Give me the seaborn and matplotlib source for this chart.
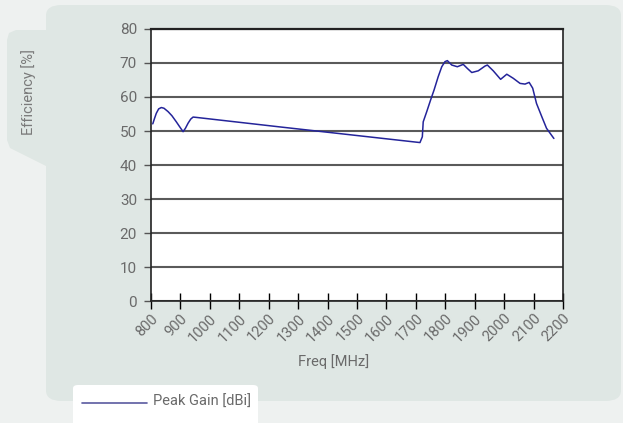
import numpy as np
import pandas as pd
import seaborn as sns
import matplotlib.pyplot as plt
from matplotlib.patches import FancyBboxPatch, Polygon

# values
freq = [806, 812, 818, 826, 835, 844, 858, 871, 886, 897,
        909, 917, 926, 935, 943, 954,
        1238, 1714, 1722, 1725, 1737, 1750, 1762, 1776, 1788, 1799,
        1807, 1822, 1841, 1861, 1875, 1890, 1912, 1935, 1943, 1963,
        1988, 2009, 2031, 2054, 2071, 2085, 2097, 2110, 2128, 2144, 2169]
efficiency = [52.1, 53.7, 55.2, 56.5, 56.9, 56.7, 55.7, 54.5, 52.7, 51.3,
              49.8, 50.8, 52.3, 53.5, 54.1, 54.0,
              51.2, 46.6, 48.3, 52.7, 55.7, 59.1, 62.1, 66.0, 68.9, 70.4,
              70.7, 69.4, 68.9, 69.6, 68.4, 67.2, 67.7, 69.1, 69.4, 67.7,
              65.2, 66.7, 65.5, 64.0, 63.8, 64.3, 62.6, 58.1, 54.2, 50.8, 47.8]
x_ticks = list(range(800, 2201, 100))
y_ticks = list(range(0, 81, 10))
series_name = 'Peak Gain [dBi]'

df = pd.DataFrame({'Freq': freq, 'Eff': efficiency})

sns.set_style('white')
plt.rcParams['font.family'] = ['Roboto', 'DejaVu Sans']

W, H = 623, 423
fig = plt.figure(figsize=(W / 100, H / 100), dpi=100)
fig.patch.set_facecolor('#eef1f0')

panel_col = '#dfe7e4'
text_col = '#6a6a6a'


def fx(px):
    return px / W


def fy(py):
    return 1 - py / H


# main panel and side tab
fig.patches.append(FancyBboxPatch((fx(46), fy(401)), fx(575), 396 / H,
                                  boxstyle='round,pad=0,rounding_size=0.025',
                                  transform=fig.transFigure, facecolor=panel_col,
                                  edgecolor='none', zorder=-2))
tab = [(46, 30), (16, 30), (9, 33), (7, 40), (7, 140), (10, 148), (46, 166)]
fig.patches.append(Polygon([(fx(a), fy(b)) for a, b in tab], closed=True,
                           transform=fig.transFigure, facecolor=panel_col,
                           edgecolor='none', zorder=-2))
# legend box
fig.patches.append(FancyBboxPatch((fx(73), fy(430)), fx(185), 45 / H,
                                  boxstyle='round,pad=0,rounding_size=0.008',
                                  transform=fig.transFigure, facecolor='white',
                                  edgecolor='none', zorder=-1))

ax = fig.add_axes([fx(151), fy(301), fx(412), 272 / H])
ax.set_zorder(3)
ax.set_facecolor('white')

sns.lineplot(data=df, x='Freq', y='Eff', ax=ax, color='#24249a', linewidth=1.1)

ax.set_xlim(800, 2200)
ax.set_ylim(0, 80)
ax.set_xticks(x_ticks)
ax.set_yticks(y_ticks)
ax.set_xticklabels([str(v) for v in x_ticks], rotation=45, ha='right',
                   rotation_mode='anchor', fontsize=10.5, color=text_col)
ax.set_yticklabels([str(v) for v in y_ticks], fontsize=11, color=text_col)
ax.tick_params(axis='x', bottom=True, direction='inout', length=11, width=1,
               color='black', pad=2)
ax.tick_params(axis='y', left=True, direction='out', length=5, width=1,
               color='#555555', pad=5)
ax.yaxis.grid(True, color='#5a5a5a', linewidth=1.5)
ax.set_axisbelow(True)
for side in ['top', 'right', 'left', 'bottom']:
    ax.spines[side].set_visible(True)
    ax.spines[side].set_color('#222222')
    ax.spines[side].set_linewidth(1.2)
ax.spines['top'].set_linewidth(1.6)
ax.set_xlabel('')
ax.set_ylabel('')

fig.text(fx(334), fy(362), 'Freq [MHz]', ha='center', va='center',
         fontsize=10.5, color=text_col)
fig.text(fx(29), fy(92), 'Efficiency [%]', ha='center', va='center',
         rotation=90, fontsize=10.5, color='#7a7a7a')

# legend entry
fig.add_artist(plt.Line2D([fx(82), fx(147)], [fy(403), fy(403)],
                          transform=fig.transFigure, color='#5a5aa0', linewidth=1.2))
fig.text(fx(153), fy(402), series_name, ha='left', va='center',
         fontsize=10.5, color=text_col)

fig.savefig('out.png', dpi=100, facecolor=fig.get_facecolor())
